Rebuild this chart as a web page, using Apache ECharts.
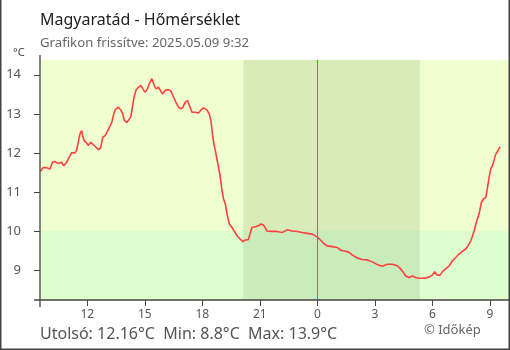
<!DOCTYPE html>
<html>
<head>
<meta charset="utf-8">
<script src="https://cdn.jsdelivr.net/npm/echarts@6/dist/echarts.min.js"></script>
<style>
html,body{margin:0;padding:0;background:#fff;}
#c{width:510px;height:350px;}
</style>
</head>
<body>
<div id="c"></div>
<script>
// Hours since 2025-05-08 00:00 (values > 24 are on 05-09)
const hours = [9.56,9.70,9.88,10.05,10.19,10.31,10.48,10.66,10.78,10.92,11.06,11.18,11.36,11.45,11.53,11.62,11.71,11.76,11.83,11.97,
12.05,12.18,12.26,12.35,12.49,12.61,12.70,12.81,12.93,13.05,13.15,13.28,13.36,13.45,13.62,13.75,13.85,13.93,14.06,14.20,
14.27,14.34,14.44,14.55,14.67,14.79,14.90,15.02,15.14,15.24,15.37,15.49,15.59,15.71,15.80,15.92,16.06,16.23,16.36,16.50,
16.62,16.76,16.88,16.99,17.11,17.23,17.33,17.46,17.63,17.80,17.93,18.06,18.24,18.36,18.45,18.53,18.59,18.68,18.76,18.85,
18.94,19.03,19.11,19.20,19.29,19.41,19.55,19.67,19.81,19.98,20.12,20.24,20.40,20.47,20.59,20.77,20.94,21.06,21.20,21.38,
21.64,21.90,22.16,22.42,22.68,22.95,23.21,23.47,23.73,23.99,24.16,24.34,24.51,24.78,25.04,25.21,25.47,25.64,25.82,26.08,
26.34,26.61,26.87,27.13,27.39,27.65,27.91,28.17,28.35,28.49,28.61,28.78,28.96,29.13,29.30,29.48,29.65,29.83,30.00,30.12,
30.26,30.40,30.53,30.70,30.88,31.05,31.22,31.39,31.57,31.74,31.86,32.01,32.18,32.32,32.44,32.56,32.67,32.79,32.88,32.96,
33.05,33.17,33.28,33.40,33.533];
const temps = [11.53,11.63,11.62,11.59,11.76,11.78,11.73,11.76,11.67,11.76,11.89,12.00,12.00,12.08,12.27,12.49,12.57,12.44,12.32,12.25,
12.19,12.27,12.28,12.19,12.13,12.08,12.14,12.40,12.44,12.55,12.53,12.78,12.96,13.10,13.17,13.10,13.00,12.83,12.78,12.87,
12.93,13.13,13.43,13.62,13.68,13.73,13.64,13.55,13.64,13.78,13.90,13.73,13.64,13.68,13.64,13.51,13.60,13.62,13.58,13.43,
13.30,13.17,13.13,13.17,13.30,13.34,13.21,13.04,13.04,13.02,13.10,13.15,13.10,13.00,12.83,12.49,12.27,12.06,11.85,11.63,
11.37,11.03,10.82,10.69,10.44,10.18,10.09,10.00,9.88,9.79,9.73,9.77,9.78,9.79,10.09,10.11,10.14,10.18,10.15,10.00,
9.99,9.99,9.96,10.03,10.00,9.99,9.96,9.94,9.92,9.85,9.77,9.68,9.62,9.60,9.58,9.51,9.48,9.46,9.39,9.31,
9.27,9.26,9.21,9.14,9.10,9.15,9.15,9.11,9.03,8.94,8.85,8.81,8.85,8.81,8.79,8.79,8.80,8.82,8.87,8.96,
8.87,8.87,8.96,9.03,9.11,9.24,9.32,9.41,9.48,9.54,9.62,9.75,10.00,10.26,10.44,10.73,10.82,10.86,11.12,11.37,
11.59,11.72,11.93,12.04,12.16];
const xTicks = [12,15,18,21,24,27,30,33];
const yTicks = [9,10,11,12,13,14];
const xMin = 9.533, xMax = 34.0;
const yMin = 8.234, yMax = 14.378;
const bandSplit = 10;
const nightStart = 20.14, nightEnd = 29.35;
const midnight = 24;
const titleText = 'Magyaratád - Hőmérséklet';
const subText = 'Grafikon frissítve: 2025.05.09 9:32';
const statsText = 'Utolsó: 12.16°C  Min: 8.8°C  Max: 13.9°C';
const creditText = '© Időkép';
const unitText = '°C';

const FONT = '"Noto Sans", "Open Sans", sans-serif';
const axisCol = '#444';
const chart = echarts.init(document.getElementById('c'), null, {renderer:'canvas'});

function xAxisDef(inside, labels){
  return {
    type:'value', min:xMin, max:xMax, position:'bottom', gridIndex:0,
    axisLine:{show:false}, splitLine:{show:false},
    axisTick:{show:true, inside:inside, length:6, customValues:xTicks, lineStyle:{color:axisCol,width:1}},
    axisLabel:{show:labels, customValues:xTicks, color:'#555', fontSize:12, fontFamily:FONT, margin:9,
      formatter:v=>String(Math.round(v)%24)}
  };
}
function yAxisDef(inside, labels){
  return {
    type:'value', min:yMin, max:yMax, position:'left', gridIndex:0,
    axisLine:{show:false}, splitLine:{show:false},
    axisTick:{show:true, inside:inside, length:6, customValues:yTicks, lineStyle:{color:axisCol,width:1}},
    axisLabel:{show:labels, customValues:yTicks, color:'#555', fontSize:13, fontFamily:FONT, margin:19,
      formatter:v=>String(Math.round(v))}
  };
}

const data = hours.map((h,i)=>[h,temps[i]]);

chart.setOption({
  animation:false,
  backgroundColor:'#fff',
  grid:{left:40, right:1, top:60, bottom:50},
  xAxis:[xAxisDef(false,true), xAxisDef(true,false)],
  yAxis:[yAxisDef(false,true), yAxisDef(true,false)],
  title:[
    {text:titleText, left:35, top:7, textStyle:{fontFamily:FONT, fontSize:16, fontWeight:'normal', color:'#222'}},
    {text:subText, left:35, top:32, textStyle:{fontFamily:FONT, fontSize:13.2, fontWeight:'normal', color:'#666'}},
    {text:unitText, left:8, top:42, textStyle:{fontFamily:FONT, fontSize:11, fontWeight:'normal', color:'#444'}},
    {text:statsText, left:35, top:321, textStyle:{fontFamily:FONT, fontSize:16, fontWeight:'normal', color:'#555'}},
    {text:creditText, left:419, top:319, textStyle:{fontFamily:FONT, fontSize:13, fontWeight:'normal', color:'#666'}}
  ],
  series:[
    {
      type:'line', data:[], z:1, silent:true,
      markArea:{silent:true, data:[
        [{yAxis:bandSplit, itemStyle:{color:'#efffd0'}}, {yAxis:yMax}],
        [{yAxis:yMin, itemStyle:{color:'#ddffd0'}}, {yAxis:bandSplit}],
        [{xAxis:nightStart, itemStyle:{color:'rgba(40,60,0,0.10)'}}, {xAxis:nightEnd}]
      ]},
      markLine:{silent:true, symbol:'none', label:{show:false},
        lineStyle:{color:'#3b8fd0', width:1, type:'solid'},
        data:[{xAxis:midnight}]}
    },
    {
      type:'line', data:data, z:3, showSymbol:false, symbol:'none',
      lineStyle:{color:'#ff4040', width:1.6}, silent:true
    }
  ]
});

// axis lines (extend slightly beyond plot as in the reference) and the outer frame
const c0 = chart.convertToPixel({gridIndex:0}, [xMin, yMin]);
const c1 = chart.convertToPixel({gridIndex:0}, [xMax, yMax]);
chart.setOption({
  graphic:[
    {type:'line', z:10, shape:{x1:c0[0], y1:c1[1]-5, x2:c0[0], y2:c0[1]+7}, style:{stroke:axisCol, lineWidth:1.3}},
    {type:'line', z:10, shape:{x1:c0[0]-6, y1:c0[1], x2:c1[0]+1, y2:c0[1]}, style:{stroke:axisCol, lineWidth:1.3}},
    {type:'polyline', z:10, shape:{points:[[0.75,0],[0.75,349.25],[509.25,349.25],[509.25,0]]}, style:{stroke:'#444', lineWidth:1.5, fill:null}}
  ]
});
</script>
</body>
</html>
